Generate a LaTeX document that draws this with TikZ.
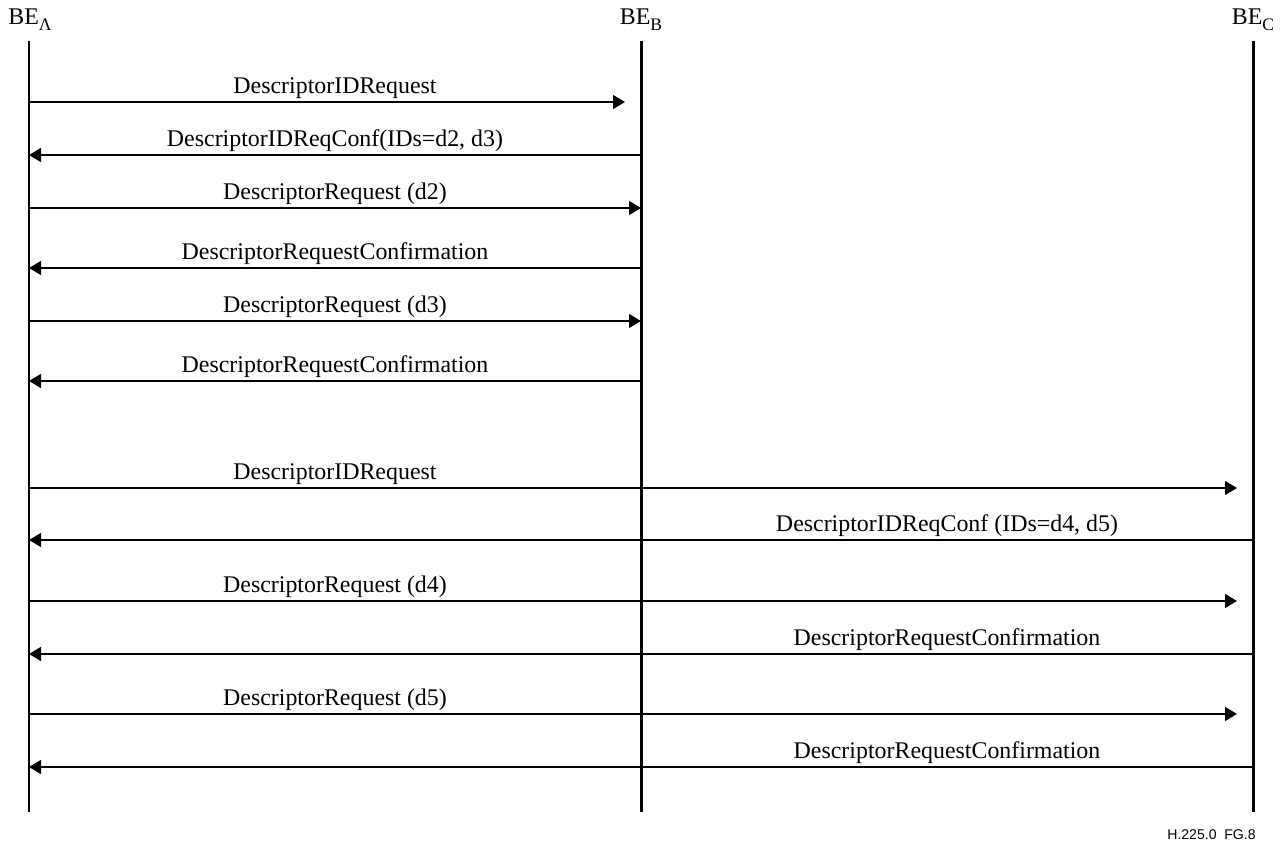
\documentclass[tikz,border=0pt]{standalone}
\usepackage{fontspec}
\setmainfont{Liberation Serif}
\newfontfamily\figfont{Liberation Sans}
\usetikzlibrary{arrows.meta}
\newcommand{\entsub}[1]{\raisebox{-0.55ex}{\fontsize{10}{12}\selectfont #1}}
\tikzset{
  lifeline/.style={line width=1.7pt},
  msg/.style={line width=0.75pt,-{Triangle[length=0.24cm,width=0.28cm]}},
  msglabel/.style={font=\fontsize{13.6}{16}\selectfont,inner sep=0pt,above=0.05cm},
  headlabel/.style={font=\fontsize{13.6}{16}\selectfont,inner sep=0pt}
}
\begin{document}
\begin{tikzpicture}
  \useasboundingbox (0,0) rectangle (25.6,-16.86);

  % Entity heads and lifelines
  \node[headlabel] (beA) at (0.6,-0.4) {BE\entsub{Λ}};
  \node[headlabel] (beB) at (12.82,-0.4) {BE\entsub{B}};
  \node[headlabel] (beC) at (25.06,-0.4) {BE\entsub{C}};
  \foreach \n/\x in {A/0.58,B/12.82,C/25.06}{
    \coordinate (top\n) at (\x,-0.82);
    \coordinate (bot\n) at (\x,-16.24);
    \draw[lifeline] (top\n) -- (bot\n);
  }

  % Message end points on each lifeline
  \foreach \i/\y in {1/2.04,2/3.10,3/4.16,4/5.36,5/6.42,6/7.62,7/9.76,8/10.80,9/12.02,10/13.08,11/14.28,12/15.34}{
    \coordinate (a\i) at (0.58,-\y);
    \coordinate (b\i) at (12.82,-\y);
    \coordinate (c\i) at (25.06,-\y);
  }

  % Exchange with BE_B
  \draw[msg,shorten >=0.32cm] (a1) -- node[msglabel] {DescriptorIDRequest} (b1);
  \draw[msg] (b2) -- node[msglabel] {DescriptorIDReqConf(IDs=d2, d3)} (a2);
  \draw[msg] (a3) -- node[msglabel] {DescriptorRequest (d2)} (b3);
  \draw[msg] (b4) -- node[msglabel] {DescriptorRequestConfirmation} (a4);
  \draw[msg] (a5) -- node[msglabel] {DescriptorRequest (d3)} (b5);
  \draw[msg] (b6) -- node[msglabel] {DescriptorRequestConfirmation} (a6);

  % Exchange with BE_C
  \draw[msg,shorten >=0.32cm] (a7) -- node[msglabel,pos=0.25] {DescriptorIDRequest} (c7);
  \draw[msg] (c8) -- node[msglabel,pos=0.25] {DescriptorIDReqConf (IDs=d4, d5)} (a8);
  \draw[msg,shorten >=0.32cm] (a9) -- node[msglabel,pos=0.25] {DescriptorRequest (d4)} (c9);
  \draw[msg] (c10) -- node[msglabel,pos=0.25] {DescriptorRequestConfirmation} (a10);
  \draw[msg,shorten >=0.32cm] (a11) -- node[msglabel,pos=0.25] {DescriptorRequest (d5)} (c11);
  \draw[msg] (c12) -- node[msglabel,pos=0.25] {DescriptorRequestConfirmation} (a12);

  % Figure tag
  \node[font=\figfont\fontsize{8}{10}\selectfont,anchor=east,inner sep=0pt] (tag) at (25.12,-16.7) {H.225.0\ \ FG.8};
\end{tikzpicture}
\end{document}
